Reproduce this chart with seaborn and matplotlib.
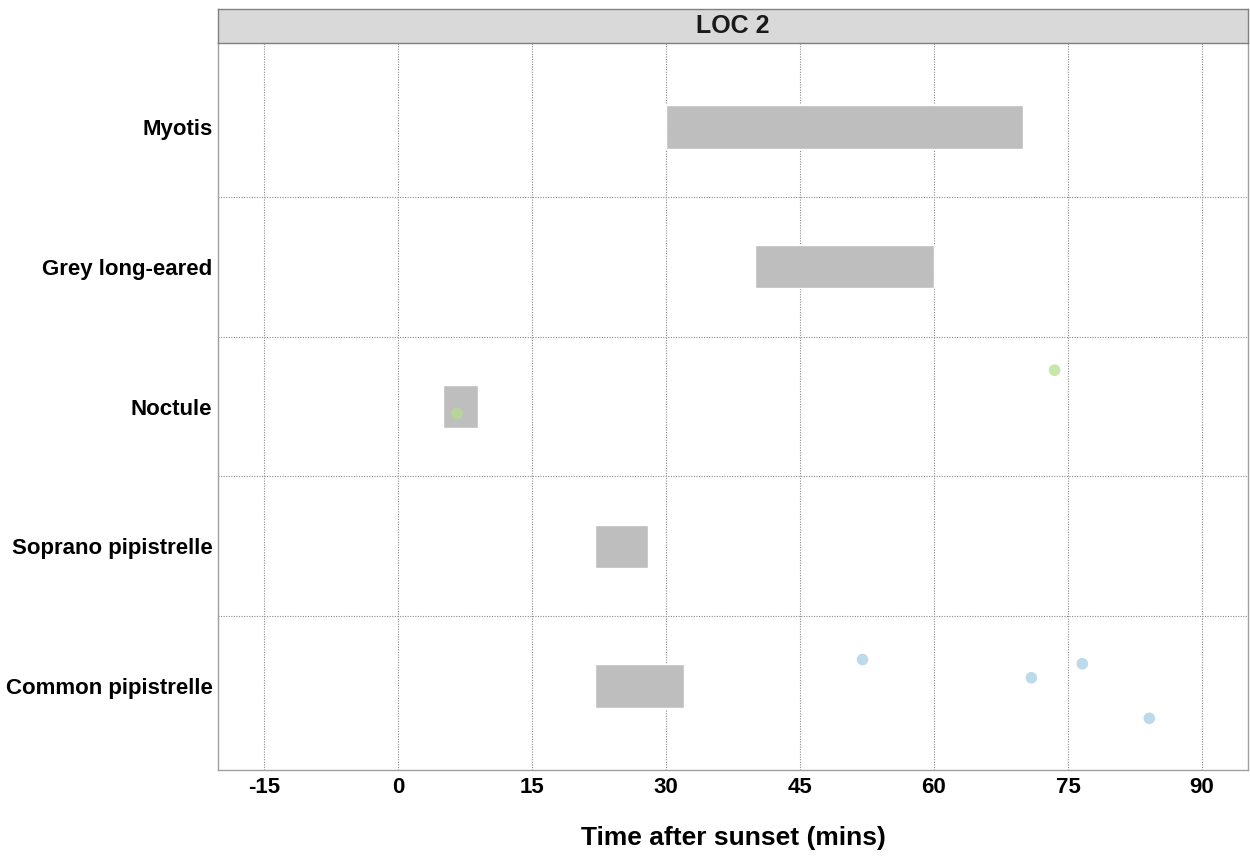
# ---- bat activity after sunset, LOC 2 ----
import pandas as pd
import matplotlib.pyplot as plt
import seaborn as sns

# ---- data ----
species = ["Myotis", "Grey long-eared", "Noctule", "Soprano pipistrelle", "Common pipistrelle"]
bar_start = [30, 40, 5, 22, 22]
bar_end = [70, 60, 9, 28, 32]

point_species = ["Noctule", "Noctule", "Common pipistrelle", "Common pipistrelle",
                 "Common pipistrelle", "Common pipistrelle"]
point_time = [6.6, 73.5, 52.0, 70.9, 76.6, 84.1]
point_jitter = [0.05, -0.26, -0.19, -0.06, -0.16, 0.23]

x_ticks = [-15, 0, 15, 30, 45, 60, 75, 90]

# ---- frames ----
bars = pd.DataFrame({"species": species, "start": bar_start, "end": bar_end})
bars["pos"] = range(len(bars))

pts = pd.DataFrame({"species": point_species, "time": point_time, "jitter": point_jitter})
pts["pos"] = pts["species"].map({s: i for i, s in enumerate(species)}) + pts["jitter"]

# ---- style ----
sns.set_style("white")
plt.rcParams['font.family'] = ['Liberation Sans', 'DejaVu Sans']
plt.rcParams['font.weight'] = 'bold'

fig = plt.figure(figsize=(12.5, 8.57), dpi=100)
ax = fig.add_axes([0.1744, 0.1015, 0.824, 0.8483])

ax.barh(bars["pos"], bars["end"] - bars["start"], left=bars["start"],
        height=0.31, color="#bebebe", zorder=2)

sns.scatterplot(data=pts, x="time", y="pos", hue="species",
                palette={"Noctule": "#b2df8a", "Common pipistrelle": "#a6cee3"},
                s=70, alpha=0.75, edgecolor="none", legend=False, ax=ax, zorder=3)

ax.set_xlim(-20.15, 95.15)
ax.set_ylim(4.6, -0.6)
ax.set_xticks(x_ticks)
ax.set_xticklabels([str(t) for t in x_ticks])
ax.set_yticks(range(len(species)))
ax.set_yticklabels(species)
ax.set_yticks([0.5, 1.5, 2.5, 3.5], minor=True)

ax.grid(False)
dots = (0, (1, 1.3))
ax.grid(axis="x", which="major", linestyle=dots, color="#8c8c8c", linewidth=0.8, zorder=0)
ax.grid(axis="y", which="minor", linestyle=dots, color="#8c8c8c", linewidth=0.8, zorder=0)
ax.tick_params(axis="both", which="both", length=0, labelsize=16, colors="black")
ax.tick_params(axis="y", pad=4)
ax.tick_params(axis="x", pad=5)
for lab in ax.get_xticklabels() + ax.get_yticklabels():
    lab.set_fontweight("bold")

for sp in ax.spines.values():
    sp.set_color("#a0a0a0")
    sp.set_linewidth(1.0)
ax.spines["top"].set_visible(False)

ax.set_ylabel("")
ax.set_xlabel("Time after sunset (mins)", fontsize=19, fontweight="bold",
              color="black", labelpad=20)

# facet strip
strip = fig.add_axes([0.1744, 0.9498, 0.824, 0.0397])
strip.set_facecolor("#d9d9d9")
strip.set_xticks([])
strip.set_yticks([])
for sp in strip.spines.values():
    sp.set_color("#808080")
    sp.set_linewidth(1.0)
strip.text(0.5, 0.5, "LOC 2", ha="center", va="center", fontsize=18,
           fontweight="bold", color="#1a1a1a", transform=strip.transAxes)

fig.savefig("out.png", dpi=100)
